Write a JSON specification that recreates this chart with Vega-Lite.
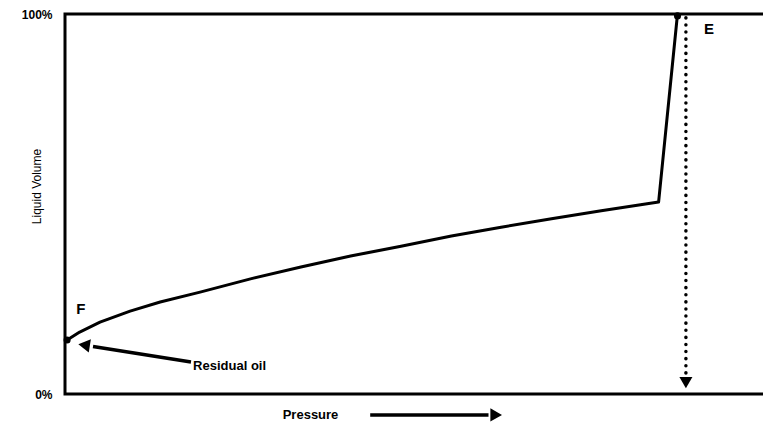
{
  "$schema": "https://vega.github.io/schema/vega-lite/v6.json",
  "width": 700,
  "height": 380,
  "autosize": {"type": "none"},
  "padding": {"left": 65, "top": 14, "right": 0, "bottom": 31},
  "background": "white",
  "config": {
    "view": {"stroke": "black", "strokeWidth": 3},
    "font": "Liberation Sans"
  },
  "datasets": {
    "curve": [
      {"p": 0.3, "v": 14.2}, {"p": 2.1, "v": 16.3}, {"p": 5.0, "v": 18.9}, {"p": 9.3, "v": 21.8},
      {"p": 13.6, "v": 24.2}, {"p": 19.3, "v": 26.8}, {"p": 26.5, "v": 30.3}, {"p": 33.7, "v": 33.4},
      {"p": 40.8, "v": 36.3}, {"p": 48.0, "v": 38.9}, {"p": 55.2, "v": 41.6}, {"p": 62.3, "v": 43.9},
      {"p": 69.5, "v": 46.1}, {"p": 76.6, "v": 48.2}, {"p": 84.8, "v": 50.5}, {"p": 87.5, "v": 100}
    ],
    "dots": [{"p": 0.3, "v": 14.2}, {"p": 87.5, "v": 99.5}],
    "dotted": [{"p": 88.7, "v": 99, "v2": 4}],
    "labels": [
      {"p": 91.3, "v": 96.0, "t": "E", "s": 15},
      {"p": 1.6, "v": 22.4, "t": "F", "s": 15},
      {"p": 18.3, "v": 7.4, "t": "Residual oil", "s": 13},
      {"p": 31.1, "v": -5.5, "t": "Pressure", "s": 13}
    ],
    "pointer": [{"p": 18.0, "v": 8.4, "p2": 4.0, "v2": 12.5}],
    "pointerHead": [{"p": 3.0, "v": 12.8}],
    "pressArrow": [{"p": 43.6, "v": -5.5, "p2": 60.5}],
    "pressHead": [{"p": 61.6, "v": -5.5}],
    "downHead": [{"p": 88.7, "v": 3.0}]
  },
  "layer": [
    {
      "data": {"name": "curve"},
      "mark": {"type": "line", "color": "black", "strokeWidth": 3, "strokeJoin": "round"},
      "encoding": {
        "x": {"field": "p", "type": "quantitative", "scale": {"domain": [0, 100], "nice": false, "zero": false}, "axis": null},
        "y": {"field": "v", "type": "quantitative", "scale": {"domain": [0, 100], "nice": false},
          "axis": {"values": [0, 100], "labelExpr": "datum.value + '%'", "ticks": false, "domain": false, "grid": false,
            "labelFontWeight": "bold", "labelFontSize": 12, "labelPadding": 13, "labelColor": "black",
            "title": "Liquid Volume", "titleFontSize": 12, "titleFontWeight": "normal", "titleColor": "black",
            "titleX": -22, "titleY": 172}}
      }
    },
    {
      "data": {"name": "dots"},
      "mark": {"type": "point", "filled": true, "color": "black", "size": 50, "opacity": 1},
      "encoding": {"x": {"field": "p", "type": "quantitative"}, "y": {"field": "v", "type": "quantitative"}}
    },
    {
      "data": {"name": "dotted"},
      "mark": {"type": "rule", "color": "black", "strokeWidth": 3.5, "strokeDash": [0.1, 7], "strokeCap": "round"},
      "encoding": {"x": {"field": "p", "type": "quantitative"}, "y": {"field": "v", "type": "quantitative"}, "y2": {"field": "v2"}}
    },
    {
      "data": {"name": "downHead"},
      "mark": {"type": "point", "shape": "triangle-down", "filled": true, "color": "black", "size": 170, "opacity": 1, "clip": false},
      "encoding": {"x": {"field": "p", "type": "quantitative"}, "y": {"field": "v", "type": "quantitative"}}
    },
    {
      "data": {"name": "pointer"},
      "mark": {"type": "rule", "color": "black", "strokeWidth": 3.5},
      "encoding": {"x": {"field": "p", "type": "quantitative"}, "y": {"field": "v", "type": "quantitative"}, "x2": {"field": "p2"}, "y2": {"field": "v2"}}
    },
    {
      "data": {"name": "pointerHead"},
      "mark": {"type": "point", "shape": "triangle", "angle": 279, "filled": true, "color": "black", "size": 180, "opacity": 1},
      "encoding": {"x": {"field": "p", "type": "quantitative"}, "y": {"field": "v", "type": "quantitative"}}
    },
    {
      "data": {"name": "pressArrow"},
      "mark": {"type": "rule", "color": "black", "strokeWidth": 3.5, "clip": false},
      "encoding": {"x": {"field": "p", "type": "quantitative"}, "y": {"field": "v", "type": "quantitative"}, "x2": {"field": "p2"}}
    },
    {
      "data": {"name": "pressHead"},
      "mark": {"type": "point", "shape": "triangle-right", "filled": true, "color": "black", "size": 180, "opacity": 1, "clip": false},
      "encoding": {"x": {"field": "p", "type": "quantitative"}, "y": {"field": "v", "type": "quantitative"}}
    },
    {
      "data": {"name": "labels"},
      "mark": {"type": "text", "align": "left", "baseline": "middle", "fontWeight": "bold", "color": "black", "clip": false},
      "encoding": {
        "x": {"field": "p", "type": "quantitative"},
        "y": {"field": "v", "type": "quantitative"},
        "text": {"field": "t"},
        "size": {"field": "s", "type": "quantitative", "scale": null}
      }
    }
  ]
}
